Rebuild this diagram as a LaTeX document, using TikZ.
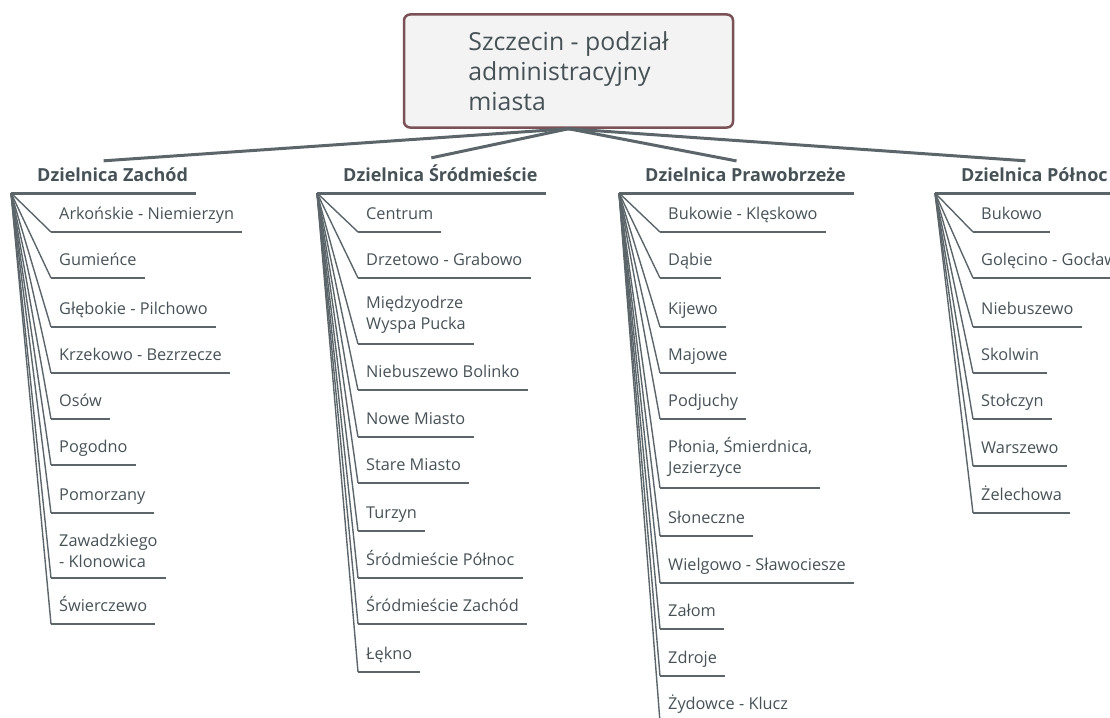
\documentclass[tikz,border=0pt]{standalone}
\usepackage{fontspec}
\setmainfont{Open Sans}
\definecolor{ink}{HTML}{475257}
\definecolor{wire}{HTML}{5B656A}
\definecolor{rootedge}{HTML}{7A5157}
\definecolor{rootfill}{HTML}{F3F3F3}
\tikzset{
 topic/.style={draw=rootedge,line width=2.5pt,fill=rootfill,rounded corners=6pt,
  minimum width=329pt,minimum height=113pt,align=left,text=ink,
  font=\fontsize{24.8}{30}\selectfont},
 district/.style={anchor=south west,inner xsep=8pt,inner ysep=7pt,text depth=4pt,
  text=ink,font=\bfseries\fontsize{18}{21}\selectfont,
  execute at begin node={\hspace*{18pt}},
  append after command={(\tikzlastnode.south west) edge[headrule] (\tikzlastnode.south east)}},
 area/.style={anchor=south west,inner xsep=8pt,inner ysep=8pt,text depth=4pt,
  text=ink,font=\fontsize{16.3}{21}\selectfont,
  append after command={(\tikzlastnode.south west) edge[rule] (\tikzlastnode.south east)}},
 areatwo/.style={area,text depth=,align=left,inner ysep=10pt},
 spoke/.style={draw=wire,line width=3pt},
 twig/.style={draw=wire,line width=1.4pt},
 headrule/.style={draw=wire,line width=3pt},
 rule/.style={draw=wire,line width=2pt}
}
\begin{document}
\begin{tikzpicture}[x=1pt,y=-1pt]
 \useasboundingbox (0,0) rectangle (1110,717);
 \clip (0,0) rectangle (1110,717);
 \node[topic] (root) at (568.5,71) {Szczecin - podział\\administracyjny\\miasta};
 % districts
 \node[district] (zachod) at (11,193) {Dzielnica Zachód};
 \node[district] (srodm) at (317,193) {Dzielnica Śródmieście};
 \node[district] (prawo) at (619,193) {Dzielnica Prawobrzeże};
 \node[district] (polnoc) at (935,193) {Dzielnica Północ};
 \draw[spoke] (root.south) -- (zachod.north); \draw[spoke] (root.south) -- (srodm.north);
 \draw[spoke] (root.south) -- (prawo.north); \draw[spoke] (root.south) -- (polnoc.north);
 % Zachod
 \node[area] (z1) at (51,232) {Arkońskie - Niemierzyn};
 \node[area] (z2) at (51,278) {Gumieńce};
 \node[area] (z3) at (51,327) {Głębokie - Pilchowo};
 \node[area] (z4) at (51,373) {Krzekowo - Bezrzecze};
 \node[area] (z5) at (51,419) {Osów};
 \node[area] (z6) at (51,465) {Pogodno};
 \node[area] (z7) at (51,513) {Pomorzany};
 \node[areatwo] (z8) at (51,578) {Zawadzkiego\\- Klonowica};
 \node[area] (z9) at (51,624) {Świerczewo};
 \path[twig] (zachod.south west) edge (z1.south west) edge (z2.south west)
  edge (z3.south west) edge (z4.south west) edge (z5.south west) edge (z6.south west)
  edge (z7.south west) edge (z8.south west) edge (z9.south west);
 % Srodmiescie
 \node[area] (s1) at (358,232) {Centrum};
 \node[area] (s2) at (358,278) {Drzetowo - Grabowo};
 \node[areatwo] (s3) at (358,344) {Międzyodrze\\Wyspa Pucka};
 \node[area] (s4) at (358,390) {Niebuszewo Bolinko};
 \node[area] (s5) at (358,437) {Nowe Miasto};
 \node[area] (s6) at (358,483) {Stare Miasto};
 \node[area] (s7) at (358,531) {Turzyn};
 \node[area] (s8) at (358,578) {Śródmieście Północ};
 \node[area] (s9) at (358,624) {Śródmieście Zachód};
 \node[area] (s10) at (358,672) {Łękno};
 \path[twig] (srodm.south west) edge (s1.south west) edge (s2.south west)
  edge (s3.south west) edge (s4.south west) edge (s5.south west) edge (s6.south west)
  edge (s7.south west) edge (s8.south west) edge (s9.south west) edge (s10.south west);
 % Prawobrzeze
 \node[area] (p1) at (660,232) {Bukowie - Klęskowo};
 \node[area] (p2) at (660,278) {Dąbie};
 \node[area] (p3) at (660,327) {Kijewo};
 \node[area] (p4) at (660,373) {Majowe};
 \node[area] (p5) at (660,419) {Podjuchy};
 \node[areatwo] (p6) at (660,488) {Płonia, Śmierdnica,\\Jezierzyce};
 \node[area] (p7) at (660,536) {Słoneczne};
 \node[area] (p8) at (660,583) {Wielgowo - Sławociesze};
 \node[area] (p9) at (660,629) {Załom};
 \node[area] (p10) at (660,676) {Zdroje};
 \node[area] (p11) at (660,722) {Żydowce - Klucz};
 \path[twig] (prawo.south west) edge (p1.south west) edge (p2.south west)
  edge (p3.south west) edge (p4.south west) edge (p5.south west) edge (p6.south west)
  edge (p7.south west) edge (p8.south west) edge (p9.south west) edge (p10.south west)
  edge (p11.south west);
 % Polnoc
 \node[area] (n1) at (973,232) {Bukowo};
 \node[area] (n2) at (973,278) {Golęcino - Gocław};
 \node[area] (n3) at (973,327) {Niebuszewo};
 \node[area] (n4) at (973,373) {Skolwin};
 \node[area] (n5) at (973,419) {Stołczyn};
 \node[area] (n6) at (973,466) {Warszewo};
 \node[area] (n7) at (973,513) {Żelechowa};
 \path[twig] (polnoc.south west) edge (n1.south west) edge (n2.south west)
  edge (n3.south west) edge (n4.south west) edge (n5.south west) edge (n6.south west)
  edge (n7.south west);
\end{tikzpicture}
\end{document}
